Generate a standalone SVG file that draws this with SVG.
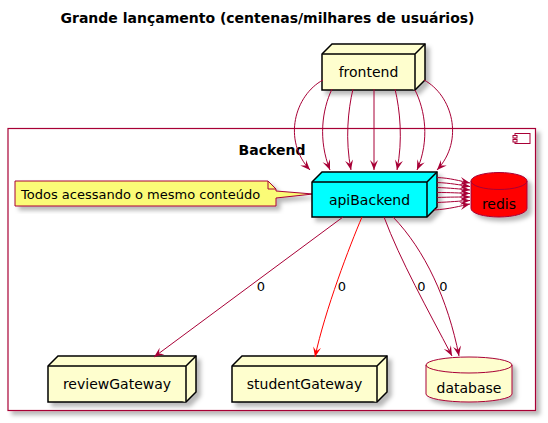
<svg xmlns="http://www.w3.org/2000/svg" width="548" height="423" viewBox="0 0 548 423">
<style>
text{font-family:"DejaVu Sans","Liberation Sans",sans-serif;fill:#000}
.title{font-size:14px;font-weight:bold}
.lbl{font-size:14px}
.small{font-size:13px}
.node{fill:#FEFECE;stroke:#000;stroke-width:1.5}
.conn{fill:none;stroke:#A80036;stroke-width:1}
</style>
<defs>
<filter id="sh" x="-10%" y="-10%" width="130%" height="140%">
<feDropShadow dx="4" dy="4" stdDeviation="2" flood-color="#000" flood-opacity="0.28"/>
</filter>
<marker id="ah" viewBox="-11 -5 12 10" refX="0" refY="0" markerWidth="12" markerHeight="10" orient="auto" markerUnits="userSpaceOnUse">
<path d="M0,0 L-10,-4 L-6,0 L-10,4 Z" fill="#A80036"/>
</marker>
<marker id="ahr" viewBox="-11 -5 12 10" refX="0" refY="0" markerWidth="12" markerHeight="10" orient="auto" markerUnits="userSpaceOnUse">
<path d="M0,0 L-10,-4 L-6,0 L-10,4 Z" fill="#FF0000"/>
</marker>
</defs>
<rect width="548" height="423" fill="#fff"/>
<text class="title" x="267.5" y="23" text-anchor="middle">Grande lançamento (centenas/milhares de usuários)</text>

<g id="Backend">
<rect x="8" y="128.5" width="527.5" height="282" fill="#fff" stroke="#A80036" stroke-width="1.2" filter="url(#sh)"/>
<rect x="515" y="133.5" width="15" height="10" fill="none" stroke="#A80036" stroke-width="1"/>
<rect x="513" y="135.5" width="4" height="2.5" fill="#fff" stroke="#A80036" stroke-width="1"/>
<rect x="513" y="139.5" width="4" height="2.5" fill="#fff" stroke="#A80036" stroke-width="1"/>
<text class="title" x="272" y="155" text-anchor="middle">Backend</text>
</g>

<g id="frontend">
<path class="node" filter="url(#sh)" d="M322,54 L332,44 L425,44 L425,80 L415,90 L322,90 Z"/>
<path class="node" fill="none" d="M415,54 L425,44 M322,54 L415,54 L415,90"/>
<text class="lbl" x="368.5" y="77" text-anchor="middle">frontend</text>
</g>

<g id="note">
<path d="M15,181 L268,181 L276,189 L276,191 L313,194 L276,198 L276,206 L15,206 Z" fill="#FBFB77" stroke="#A80036" stroke-width="1" filter="url(#sh)"/>
<path d="M268,181 L268,189 L276,189" fill="none" stroke="#A80036" stroke-width="1"/>
<text class="small" x="21" y="199">Todos acessando o mesmo conteúdo</text>
</g>

<g id="apiBackend">
<path filter="url(#sh)" d="M312,182 L322,172 L437,172 L437,207 L427,217 L312,217 Z" fill="#00FFFF" stroke="#000" stroke-width="1.5"/>
<path d="M427,182 L437,172 M312,182 L427,182 L427,217" fill="none" stroke="#000" stroke-width="1.5"/>
<text class="lbl" x="369.5" y="205" text-anchor="middle">apiBackend</text>
</g>

<g id="redis">
<path filter="url(#sh)" d="M471,181 A28,8.5 0 0 1 527,181 L527,208.5 A28,8.5 0 0 1 471,208.5 Z" fill="#FF0000" stroke="#A80036" stroke-width="1"/>
<path d="M471,181 A28,8.5 0 0 0 527,181" fill="none" stroke="#A80036" stroke-width="1"/>
<text class="lbl" x="499" y="209" text-anchor="middle">redis</text>
</g>

<g id="reviewGateway">
<path class="node" filter="url(#sh)" d="M48,366 L58,356 L196,356 L196,392 L186,402 L48,402 Z"/>
<path class="node" fill="none" d="M186,366 L196,356 M48,366 L186,366 L186,402"/>
<text class="lbl" x="117" y="389" text-anchor="middle">reviewGateway</text>
</g>

<g id="studentGateway">
<path class="node" filter="url(#sh)" d="M232,366 L242,356 L387,356 L387,392 L377,402 L232,402 Z"/>
<path class="node" fill="none" d="M377,366 L387,356 M232,366 L377,366 L377,402"/>
<text class="lbl" x="304.5" y="389" text-anchor="middle">studentGateway</text>
</g>

<g id="database">
<path filter="url(#sh)" d="M426,365 A43,8 0 0 1 512,365 L512,394 A43,8 0 0 1 426,394 Z" fill="#FEFECE" stroke="#A80036" stroke-width="1"/>
<path d="M426,365 A43,8 0 0 0 512,365" fill="none" stroke="#A80036" stroke-width="1"/>
<text class="lbl" x="469" y="393" text-anchor="middle">database</text>
</g>

<g id="connectors">
<path class="conn" marker-end="url(#ah)" d="M323,80 C295,95 282,140 310,170"/>
<path class="conn" marker-end="url(#ah)" d="M332,89 C322,110 318,140 330,170"/>
<path class="conn" marker-end="url(#ah)" d="M353,89 C348,110 345,140 351,170"/>
<path class="conn" marker-end="url(#ah)" d="M374,89 L374,170"/>
<path class="conn" marker-end="url(#ah)" d="M395,89 C400,110 403,140 397,170"/>
<path class="conn" marker-end="url(#ah)" d="M415,90 C425,110 430,140 417,170"/>
<path class="conn" marker-end="url(#ah)" d="M424,80 C452,95 465,140 437,170"/>

<path class="conn" marker-end="url(#ah)" d="M437,177.5 C450,178 460,181 470,183"/>
<path class="conn" marker-end="url(#ah)" d="M437,182.5 C450,183 460,185 470,186.5"/>
<path class="conn" marker-end="url(#ah)" d="M437,187.5 C450,188 460,189 470,190"/>
<path class="conn" marker-end="url(#ah)" d="M437,192.5 C450,192.5 460,193 470,193.5"/>
<path class="conn" marker-end="url(#ah)" d="M437,197.5 C450,197 460,197 470,197"/>
<path class="conn" marker-end="url(#ah)" d="M437,202.5 C450,202 460,201 470,200.5"/>
<path class="conn" marker-end="url(#ah)" d="M434,210 C450,209 460,206 470,204"/>

<path class="conn" marker-end="url(#ah)" d="M343,217 L154,357"/>
<path fill="none" stroke="#FF0000" stroke-width="1" marker-end="url(#ahr)" d="M362,217 C350,245 325,310 315,357"/>
<path class="conn" marker-end="url(#ah)" d="M384,217 C400,260 428,310 452,356"/>
<path class="conn" marker-end="url(#ah)" d="M393,217 C425,250 448,300 459,356"/>
<text class="small" x="261" y="291" text-anchor="middle">0</text>
<text class="small" x="342" y="291" text-anchor="middle">0</text>
<text class="small" x="421.5" y="291" text-anchor="middle">0</text>
<text class="small" x="443.5" y="291" text-anchor="middle">0</text>
</g>
</svg>
